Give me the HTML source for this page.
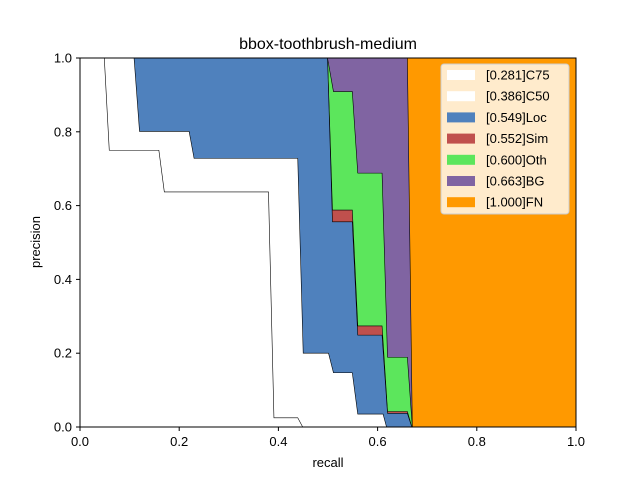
<!DOCTYPE html>
<html><head><meta charset="utf-8"><style>
body{margin:0;background:#fff;}
svg{display:block;font-family:"Liberation Sans","DejaVu Sans",sans-serif;}
</style></head><body>
<svg id="chart" width="640" height="480">
<rect width="640" height="480" fill="#fff"/>
<g id="areas"></g>
<g id="axes"></g>
<text x="328" y="49" text-anchor="middle" font-size="16">bbox-toothbrush-medium</text>
<text x="328" y="467" text-anchor="middle" font-size="13">recall</text>
<text transform="translate(40,242) rotate(-90)" text-anchor="middle" font-size="13">precision</text>
<g id="legend"></g>
</svg>
<script>
const seriesNames = ["[0.281]C75","[0.386]C50","[0.549]Loc","[0.552]Sim","[0.600]Oth","[0.663]BG","[1.000]FN"];
const seriesColors = ["#ffffff","#ffffff","#4f81bd","#c0504d","#5ce65c","#8064a2","#ff9900"];
const recallC75 = [0,0.049,0.059,0.159,0.170,0.380,0.391,0.439,0.449,1];
const precC75   = [1,1,0.75,0.75,0.637,0.637,0.025,0.025,0,0];
const recallC50 = [0,0.109,0.120,0.220,0.230,0.439,0.450,0.501,0.511,0.549,0.560,0.611,0.618,1];
const precC50   = [1,1,0.801,0.801,0.728,0.728,0.200,0.200,0.147,0.147,0.035,0.035,0,0];
const recallLoc = [0,0.499,0.509,0.549,0.560,0.609,0.620,0.660,0.669,1];
const precLoc   = [1,1,0.556,0.556,0.249,0.249,0.037,0.037,0,0];
const recallSim = [0,0.499,0.509,0.549,0.560,0.609,0.620,0.660,0.669,1];
const precSim   = [1,1,0.588,0.588,0.274,0.274,0.042,0.042,0,0];
const recallOth = [0,0.499,0.511,0.549,0.560,0.609,0.620,0.660,0.670,1];
const precOth   = [1,1,0.909,0.909,0.688,0.688,0.189,0.189,0,0];
const recallBG  = [0,0.660,0.670,1];
const precBG    = [1,1,0,0];
const recallFN  = [0,1];
const precFN    = [1,1];
const xTicks = [0,0.2,0.4,0.6,0.8,1.0];
const yTicks = [0,0.2,0.4,0.6,0.8,1.0];
const xTickLabels = ["0.0","0.2","0.4","0.6","0.8","1.0"];
const yTickLabels = ["0.0","0.2","0.4","0.6","0.8","1.0"];

const X0=80,X1=576,Y0=427,Y1=58;
const sx=v=>X0+v*(X1-X0);
const sy=v=>Y0-v*(Y0-Y1);
const NS="http://www.w3.org/2000/svg";
const curves=[[recallC75,precC75],[recallC50,precC50],[recallLoc,precLoc],[recallSim,precSim],[recallOth,precOth],[recallBG,precBG],[recallFN,precFN]];
const keys=["c75","c50","loc","sim","oth","bg","fn"];
const areas=document.getElementById('areas');
for(let i=curves.length-1;i>=0;i--){
  const [r,p]=curves[i];
  let d='M'+sx(0)+','+sy(0);
  for(let k=0;k<r.length;k++) d+=' L'+sx(r[k]).toFixed(2)+','+sy(p[k]).toFixed(2);
  d+=' L'+sx(r[r.length-1])+','+sy(0)+' Z';
  const a=document.createElementNS(NS,'path');
  a.setAttribute('d',d);a.setAttribute('fill',seriesColors[i]);
  
  
  areas.appendChild(a);
  if(i<6){
    let l='';
    for(let k=0;k<r.length;k++) l+=(k?' L':'M')+sx(r[k]).toFixed(2)+','+sy(p[k]).toFixed(2);
    const ln=document.createElementNS(NS,'path');
    ln.setAttribute('d',l);ln.setAttribute('fill','none');ln.setAttribute('stroke','#000');ln.setAttribute('stroke-width','0.6');
    
    
    areas.appendChild(ln);
  }
}
const axes=document.getElementById('axes');
let h='<rect x="80" y="58" width="496" height="369" fill="none" stroke="#000" stroke-width="1"/>';
xTicks.forEach((t,i)=>{const x=sx(t);h+=`<line x1="${x}" y1="427" x2="${x}" y2="431" stroke="#000"/><text x="${x}" y="446" text-anchor="middle" font-size="13">${xTickLabels[i]}</text>`;});
yTicks.forEach((t,i)=>{const y=sy(t);h+=`<line x1="76" y1="${y}" x2="80" y2="${y}" stroke="#000"/><text x="72" y="${y+4.5}" text-anchor="end" font-size="13">${yTickLabels[i]}</text>`;});
axes.innerHTML=h;
let g='<rect x="441" y="64" width="128" height="150" rx="3" fill="#fff" fill-opacity="0.8" stroke="#ccc"/>';
seriesNames.forEach((n,i)=>{const y=75+i*21.2;g+=`<rect x="447" y="${y-5}" width="28" height="10" fill="${seriesColors[i]}"/><text x="486" y="${y+4.5}" font-size="13">${n}</text>`;});
document.getElementById('legend').innerHTML=g;
</script>
</body></html>
